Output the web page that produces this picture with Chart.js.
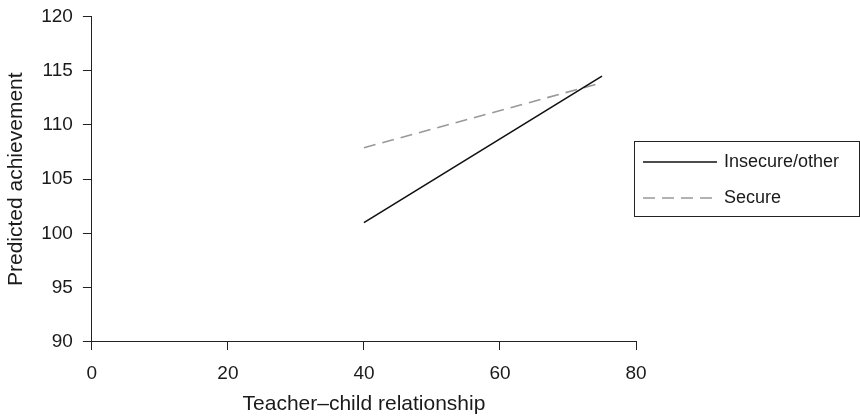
<!DOCTYPE html>
<html>
<head>
<meta charset="utf-8">
<script src="https://cdn.jsdelivr.net/npm/chart.js@4"></script>
<style>
  html, body { margin: 0; padding: 0; background: #fff; }
  #wrap { width: 860px; height: 417px; position: relative; }
</style>
</head>
<body>
<div id="wrap"><canvas id="chart"></canvas></div>
<script>
// Data
const seriesNames = ['Insecure/other', 'Secure'];
const relationshipX = [40, 75];
const insecureY = [101.0, 114.5];
const secureY = [107.9, 113.9];
const xTicks = [0, 20, 40, 60, 80];
const yTicks = [90, 95, 100, 105, 110, 115, 120];

const FONT = 'Liberation Sans, Arial, Helvetica, sans-serif';
const TEXT = '#1a1a1a';

// Legend box drawn at the right, outside the plot area
const boxLegend = {
    id: 'boxLegend',
    afterDraw(chart) {
        const ctx = chart.ctx;
        const x0 = 634, y0 = 141, x1 = 859, y1 = 216;
        ctx.save();
        ctx.strokeStyle = '#222';
        ctx.lineWidth = 1;
        ctx.strokeRect(x0 + 0.5, y0 + 0.5, x1 - x0, y1 - y0);
        chart.data.datasets.forEach((ds, i) => {
            const y = 162 + i * 36;
            ctx.beginPath();
            ctx.strokeStyle = ds.borderColor;
            ctx.lineWidth = ds.borderWidth;
            ctx.setLineDash(ds.borderDash || []);
            ctx.moveTo(643, y);
            ctx.lineTo(717, y);
            ctx.stroke();
            ctx.setLineDash([]);
            ctx.fillStyle = TEXT;
            ctx.font = '18px ' + FONT;
            ctx.textBaseline = 'middle';
            ctx.fillText(ds.label, 724, y);
        });
        ctx.restore();
    }
};

new Chart(document.getElementById('chart'), {
    type: 'line',
    data: {
        datasets: [{
            label: seriesNames[0],
            data: relationshipX.map((x, i) => ({ x, y: insecureY[i] })),
            borderColor: '#111',
            borderWidth: 1.6,
            pointRadius: 0,
            fill: false
        }, {
            label: seriesNames[1],
            data: relationshipX.map((x, i) => ({ x, y: secureY[i] })),
            borderColor: '#999',
            borderWidth: 1.6,
            borderDash: [12, 7],
            pointRadius: 0,
            fill: false
        }]
    },
    options: {
        responsive: true,
        maintainAspectRatio: false,
        animation: false,
        layout: { padding: { top: 0, right: 224, left: 4, bottom: 0 } },
        plugins: { legend: { display: false }, tooltip: { enabled: false } },
        scales: {
            x: {
                type: 'linear',
                min: 0, max: 80,
                afterBuildTicks: axis => { axis.ticks = xTicks.map(v => ({ value: v })); },
                grid: { drawOnChartArea: false, drawTicks: true, tickLength: 8, color: '#222' },
                border: { color: '#222', width: 1 },
                ticks: { color: TEXT, font: { family: FONT, size: 19 }, padding: 12, maxRotation: 0 },
                title: { display: true, text: 'Teacher–child relationship', color: TEXT,
                         font: { family: FONT, size: 21 }, padding: { top: -5, bottom: 0 } }
            },
            y: {
                min: 90, max: 120,
                afterBuildTicks: axis => { axis.ticks = yTicks.map(v => ({ value: v })); },
                grid: { drawOnChartArea: false, drawTicks: true, tickLength: 9, color: '#222' },
                border: { color: '#222', width: 1 },
                ticks: { color: TEXT, font: { family: FONT, size: 19, lineHeight: 0.68 }, padding: 10 },
                title: { display: true, text: 'Predicted achievement', color: TEXT,
                         font: { family: FONT, size: 21 }, padding: { top: 0, bottom: 2 } }
            }
        }
    },
    plugins: [boxLegend]
});
</script>
</body>
</html>
